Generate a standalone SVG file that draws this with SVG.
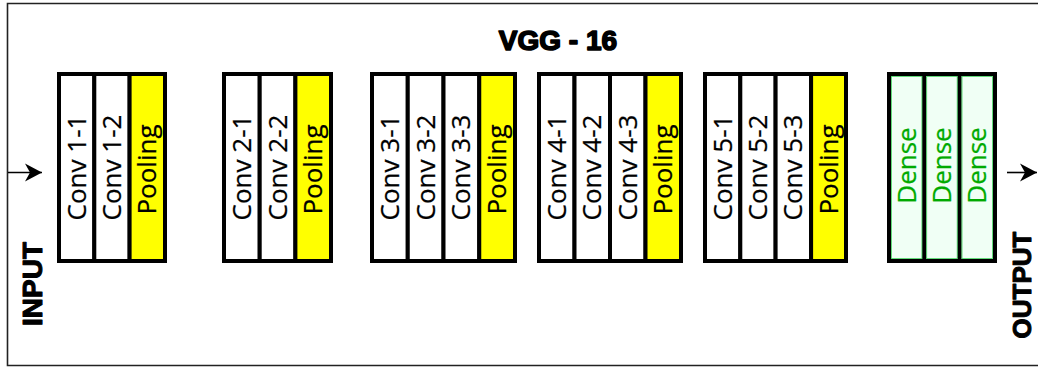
<svg xmlns="http://www.w3.org/2000/svg" width="1038" height="367" viewBox="0 0 1038 367">
  <style>
    .frame { fill: none; stroke: #222; stroke-width: 1.6; }
    .col { stroke: #000; stroke-width: 4; }
    .conv { fill: #ffffff; }
    .pool { fill: #ffff00; }
    .dense { fill: #f0fff5; }
    .dense-edge { fill: none; stroke: #3fd25a; stroke-width: 0.8; }
    .lbl { font-family: "Open Sans", "Noto Sans", sans-serif; font-size: 26px; fill: #000; text-anchor: middle; stroke: #000; stroke-width: 0.25; }
    .lbl-dense { fill: #00aa00; stroke: #00aa00; }
    .title { font-family: "Liberation Sans", Arial, sans-serif; font-weight: bold; font-size: 28px; fill: #000; stroke: #000; stroke-width: 1.6; stroke-linejoin: round; text-anchor: middle; }
    .io { font-family: "Liberation Sans", Arial, sans-serif; font-weight: bold; font-size: 28px; fill: #000; stroke: #000; stroke-width: 1; stroke-linejoin: round; text-anchor: middle; }
    .wire { stroke: #000; stroke-width: 1.6; fill: none; }
  </style>
  <defs>
    <marker id="head" markerUnits="userSpaceOnUse" markerWidth="20" markerHeight="20" refX="17" refY="10" orient="auto">
      <path d="M0,1 L17,10 L0,19 L5,10 Z" fill="#000"/>
    </marker>
  </defs>

  <!-- outer frame (open on the right side) -->
  <path class="frame" d="M1038,3.5 H7.5 V365.5 H1038"/>

  <!-- title -->
  <text class="title" x="558" y="50">VGG - 16</text>

  <!-- side labels -->
  <text class="io" transform="translate(42,284) rotate(-90)">INPUT</text>
  <text class="io" style="font-size:26px" transform="translate(1031,285) rotate(-90)">OUTPUT</text>

  <!-- block 1 -->
  <g id="block1">
    <rect class="col conv" x="59" y="74" width="35.3" height="187"/>
    <rect class="col conv" x="94.3" y="74" width="35.3" height="187"/>
    <rect class="col pool" x="129.6" y="74" width="35.4" height="187"/>
    <text class="lbl" transform="translate(76.6,167.5) rotate(-90)" y="9">Conv 1-1</text>
    <text class="lbl" transform="translate(112,167.5) rotate(-90)" y="9">Conv 1-2</text>
    <text class="lbl" transform="translate(147.3,169.5) rotate(-90)" y="9">Pooling</text>
  </g>

  <!-- block 2 -->
  <g id="block2">
    <rect class="col conv" x="224" y="74" width="35.7" height="187"/>
    <rect class="col conv" x="259.7" y="74" width="35.7" height="187"/>
    <rect class="col pool" x="295.4" y="74" width="35.6" height="187"/>
    <text class="lbl" transform="translate(241.8,167.5) rotate(-90)" y="9">Conv 2-1</text>
    <text class="lbl" transform="translate(277.5,167.5) rotate(-90)" y="9">Conv 2-2</text>
    <text class="lbl" transform="translate(313.2,169.5) rotate(-90)" y="9">Pooling</text>
  </g>

  <!-- block 3 -->
  <g id="block3">
    <rect class="col conv" x="372" y="74" width="35.75" height="187"/>
    <rect class="col conv" x="407.75" y="74" width="35.75" height="187"/>
    <rect class="col conv" x="443.5" y="74" width="35.75" height="187"/>
    <rect class="col pool" x="479.25" y="74" width="35.75" height="187"/>
    <text class="lbl" transform="translate(389.9,167.5) rotate(-90)" y="9">Conv 3-1</text>
    <text class="lbl" transform="translate(425.6,167.5) rotate(-90)" y="9">Conv 3-2</text>
    <text class="lbl" transform="translate(461.4,167.5) rotate(-90)" y="9">Conv 3-3</text>
    <text class="lbl" transform="translate(497.1,169.5) rotate(-90)" y="9">Pooling</text>
  </g>

  <!-- block 4 -->
  <g id="block4">
    <rect class="col conv" x="539" y="74" width="35.5" height="187"/>
    <rect class="col conv" x="574.5" y="74" width="35.5" height="187"/>
    <rect class="col conv" x="610" y="74" width="35.5" height="187"/>
    <rect class="col pool" x="645.5" y="74" width="35.5" height="187"/>
    <text class="lbl" transform="translate(556.8,167.5) rotate(-90)" y="9">Conv 4-1</text>
    <text class="lbl" transform="translate(592.3,167.5) rotate(-90)" y="9">Conv 4-2</text>
    <text class="lbl" transform="translate(627.8,167.5) rotate(-90)" y="9">Conv 4-3</text>
    <text class="lbl" transform="translate(663.3,169.5) rotate(-90)" y="9">Pooling</text>
  </g>

  <!-- block 5 -->
  <g id="block5">
    <rect class="col conv" x="705" y="74" width="35.3" height="187"/>
    <rect class="col conv" x="740.3" y="74" width="35.3" height="187"/>
    <rect class="col conv" x="775.6" y="74" width="35.5" height="187"/>
    <rect class="col pool" x="811.1" y="74" width="34.9" height="187"/>
    <text class="lbl" transform="translate(722.7,167.5) rotate(-90)" y="9">Conv 5-1</text>
    <text class="lbl" transform="translate(758,167.5) rotate(-90)" y="9">Conv 5-2</text>
    <text class="lbl" transform="translate(793.4,167.5) rotate(-90)" y="9">Conv 5-3</text>
    <text class="lbl" transform="translate(828.6,169.5) rotate(-90)" y="9">Pooling</text>
  </g>

  <!-- fully connected block -->
  <g id="dense-block">
    <rect class="col dense" x="889" y="74" width="35.3" height="187"/>
    <rect class="col dense" x="924.3" y="74" width="35.3" height="187"/>
    <rect class="col dense" x="959.6" y="74" width="35.4" height="187"/>
    <rect class="dense-edge" x="891.4" y="76.4" width="30.5" height="182.2"/>
    <rect class="dense-edge" x="926.7" y="76.4" width="30.5" height="182.2"/>
    <rect class="dense-edge" x="962" y="76.4" width="30.6" height="182.2"/>
    <text class="lbl lbl-dense" transform="translate(906.6,165.5) rotate(-90)" y="9">Dense</text>
    <text class="lbl lbl-dense" transform="translate(942,165.5) rotate(-90)" y="9">Dense</text>
    <text class="lbl lbl-dense" transform="translate(977.3,165.5) rotate(-90)" y="9">Dense</text>
  </g>

  <!-- connectors -->
  <g id="connectors">
    <line class="wire" x1="8" y1="172.5" x2="42" y2="172.5" marker-end="url(#head)"/>
    <line class="wire" x1="1007" y1="172.5" x2="1037" y2="172.5" marker-end="url(#head)"/>
  </g>
</svg>
